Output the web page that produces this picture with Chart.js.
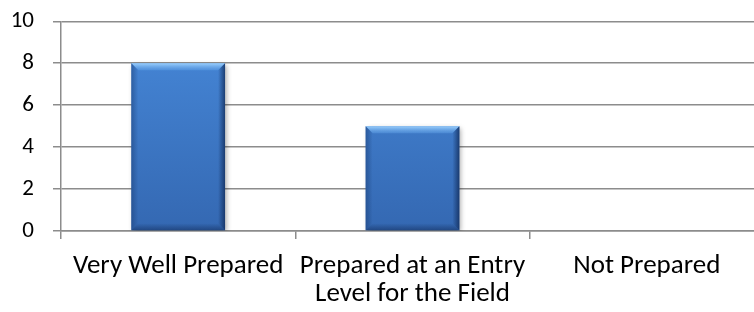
<!DOCTYPE html>
<html>
<head>
<meta charset="utf-8">
<script src="https://cdn.jsdelivr.net/npm/chart.js@4/dist/chart.umd.min.js"></script>
<style>
  html, body { margin: 0; padding: 0; background: #fff; overflow: hidden; }
  #wrap { width: 764px; height: 312px; }
</style>
</head>
<body>
<div id="wrap"><canvas id="prep" width="764" height="312"></canvas></div>
<script>
// values
var categories = ["Very Well Prepared", ["Prepared at an Entry", "Level for the Field"], "Not Prepared"];
var counts = [8, 5, 0];
var yTicks = [0, 2, 4, 6, 8, 10];

var fontFamily = "Carlito, Calibri, Lato, 'Open Sans', sans-serif";

// excel-ish bevel drawn over the bars the library placed
var bevelBars = {
    id: 'bevelBars',
    beforeDatasetsDraw: function (chart) {
        var ctx = chart.ctx;
        ctx.save();
        ctx.shadowColor = 'rgba(0,0,0,0.35)';
        ctx.shadowBlur = 5;
        ctx.shadowOffsetX = 2;
        ctx.shadowOffsetY = 2;
    },
    afterDatasetsDraw: function (chart) {
        var ctx = chart.ctx;
        ctx.restore();
        var meta = chart.getDatasetMeta(0);
        meta.data.forEach(function (bar) {
            var p = bar.getProps(['x', 'y', 'base', 'width'], true);
            var h = p.base - p.y;
            if (h < 2) return;
            var l = p.x - p.width / 2, r = p.x + p.width / 2, t = p.y, b = p.base;
            var s = 7;
            ctx.save();
            // top
            var g = ctx.createLinearGradient(0, t, 0, t + s);
            g.addColorStop(0, 'rgba(160,212,255,0.95)');
            g.addColorStop(1, 'rgba(100,165,235,0.4)');
            ctx.fillStyle = g;
            ctx.beginPath();
            ctx.moveTo(l, t); ctx.lineTo(r, t); ctx.lineTo(r - s, t + s); ctx.lineTo(l + s, t + s); ctx.closePath();
            ctx.fill();
            // left
            g = ctx.createLinearGradient(l, 0, l + s, 0);
            g.addColorStop(0, 'rgba(25,60,115,0.5)');
            g.addColorStop(1, 'rgba(25,60,115,0.0)');
            ctx.fillStyle = g;
            ctx.beginPath();
            ctx.moveTo(l, t); ctx.lineTo(l + s, t + s); ctx.lineTo(l + s, b - s); ctx.lineTo(l, b); ctx.closePath();
            ctx.fill();
            // right
            g = ctx.createLinearGradient(r - s, 0, r, 0);
            g.addColorStop(0, 'rgba(15,40,85,0.0)');
            g.addColorStop(1, 'rgba(15,40,85,0.75)');
            ctx.fillStyle = g;
            ctx.beginPath();
            ctx.moveTo(r, t); ctx.lineTo(r - s, t + s); ctx.lineTo(r - s, b - s); ctx.lineTo(r, b); ctx.closePath();
            ctx.fill();
            // bottom
            g = ctx.createLinearGradient(0, b - s, 0, b);
            g.addColorStop(0, 'rgba(15,40,85,0.0)');
            g.addColorStop(1, 'rgba(15,40,85,0.5)');
            ctx.fillStyle = g;
            ctx.beginPath();
            ctx.moveTo(l, b); ctx.lineTo(l + s, b - s); ctx.lineTo(r - s, b - s); ctx.lineTo(r, b); ctx.closePath();
            ctx.fill();
            ctx.restore();
        });
    }
};

new Chart(document.getElementById("prep"), {
    type: 'bar',
    data: {
        labels: categories,
        datasets: [{
            data: counts,
            backgroundColor: function (context) {
                var area = context.chart.chartArea;
                if (!area) return '#3f7fcf';
                var g = context.chart.ctx.createLinearGradient(0, area.top, 0, area.bottom);
                g.addColorStop(0, '#4789da');
                g.addColorStop(1, '#3468b2');
                return g;
            },
            borderWidth: 0,
            barPercentage: 0.40,
            categoryPercentage: 1.0
        }]
    },
    options: {
        responsive: false,
        animation: false,
        layout: { padding: 0 },
        plugins: {
            legend: { display: false },
            tooltip: { enabled: false }
        },
        scales: {
            y: {
                min: 0,
                max: 10,
                afterFit: function (scale) { scale.width = 61; },
                afterBuildTicks: function (scale) {
                    scale.ticks = yTicks.map(function (v) { return { value: v }; });
                },
                border: { color: '#8c8c8c', width: 1.5 },
                grid: { color: '#8c8c8c', lineWidth: 1.5, tickLength: 8 },
                ticks: {
                    padding: 19,
                    color: '#000',
                    // small lineHeight only trims the space the scale reserves above the top label
                    font: { family: fontFamily, size: 23, lineHeight: 0.2 }
                }
            },
            x: {
                afterFit: function (scale) { scale.height = 81; },
                border: { color: '#8c8c8c', width: 1.5 },
                grid: { drawOnChartArea: false, color: '#8c8c8c', lineWidth: 1.5, tickLength: 8, offset: true },
                ticks: {
                    padding: 13,
                    autoSkip: false,
                    maxRotation: 0,
                    color: '#000',
                    font: { family: fontFamily, size: 27, lineHeight: 1.05 }
                }
            }
        }
    },
    plugins: [bevelBars]
});
</script>
</body>
</html>
